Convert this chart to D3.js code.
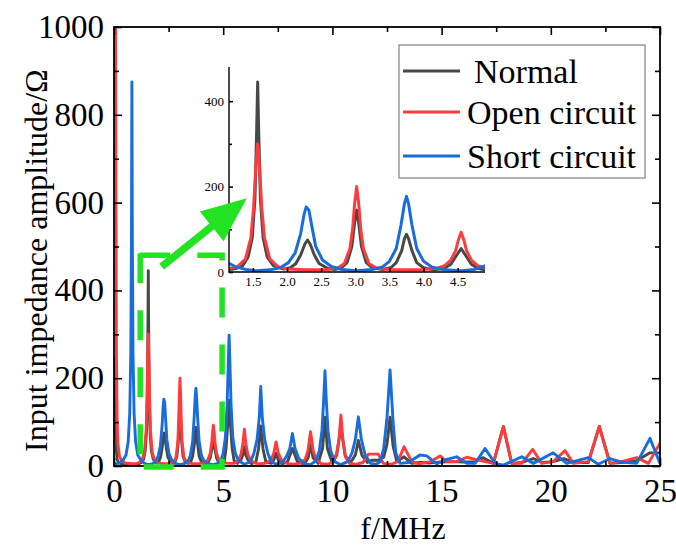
<!DOCTYPE html>
<html><head><meta charset="utf-8">
<script src="https://cdn.jsdelivr.net/npm/d3@7"></script>
<style>body{margin:0;background:#fff} svg{display:block}</style>
</head><body><svg id="c" width="676" height="546"></svg>
<script>
// ---------- data (frequency MHz, impedance Ω) ----------
const seriesNames = ["Normal", "Open circuit", "Short circuit"];
const seriesColors = ["#484848", "#ff3b3b", "#176ddc"];

const normalData = [[0,250],[0.06,120],[0.1,40],[0.14,15],[0.22,7],[0.4,4],[0.82,3],[1.1,4],[1.25,8],[1.35,15],[1.43,35],[1.49,80],[1.53,170],[1.555,330],[1.57,445],[1.585,330],[1.61,170],[1.65,80],[1.71,35],[1.8,15],[1.95,7],[2.05,10],[2.13,20],[2.2,40],[2.26,65],[2.3,75],[2.34,65],[2.4,40],[2.47,20],[2.6,8],[2.7,6],[2.8,10],[2.88,22],[2.95,60],[2.99,115],[3.02,145],[3.05,115],[3.09,60],[3.16,22],[3.25,10],[3.4,6],[3.52,10],[3.6,22],[3.68,50],[3.72,78],[3.75,88],[3.78,78],[3.83,50],[3.9,22],[4.0,10],[4.15,5],[4.3,8],[4.4,18],[4.48,38],[4.55,55],[4.62,38],[4.7,18],[4.8,8],[4.95,4],[5.05,12],[5.13,40],[5.2,90],[5.27,150],[5.34,90],[5.41,40],[5.5,12],[5.65,6],[5.82,15],[5.9,25],[5.97,44],[6.04,25],[6.12,15],[6.3,5],[6.5,10],[6.62,40],[6.72,91],[6.82,40],[6.95,10],[7.2,6],[7.32,14],[7.42,29],[7.52,14],[7.7,5],[7.95,10],[8.17,40],[8.4,10],[8.7,4],[8.88,18],[9.0,48],[9.12,18],[9.35,6],[9.55,40],[9.66,111],[9.77,40],[10.0,6],[10.2,25],[10.39,90],[10.58,25],[10.8,6],[11.05,25],[11.19,58],[11.35,25],[11.6,8],[11.8,13],[12.1,13],[12.35,20],[12.5,50],[12.64,111],[12.78,45],[12.95,10],[13.28,21],[13.63,6],[14.0,8],[14.5,7],[15.0,9],[15.5,10],[16.0,9],[16.53,10],[16.9,19],[17.37,6],[17.83,90],[18.21,6],[18.67,8],[19.2,17],[19.6,8],[20.1,10],[20.6,17],[21.03,8],[21.72,8],[22.22,90],[22.71,6],[23.24,8],[23.93,12],[24.54,30],[25,30]];

const openData = [[0,1000],[0.07,1000],[0.09,600],[0.11,260],[0.14,110],[0.18,50],[0.25,22],[0.35,12],[0.5,7],[0.8,5],[1.0,5],[1.15,8],[1.27,12],[1.39,30],[1.47,80],[1.51,150],[1.54,240],[1.57,300],[1.6,240],[1.63,150],[1.67,80],[1.75,30],[1.87,12],[2.0,7],[2.3,5],[2.6,6],[2.75,10],[2.84,20],[2.92,54],[2.96,100],[2.99,160],[3.02,200],[3.05,160],[3.08,100],[3.12,54],[3.2,20],[3.3,10],[3.5,6],[3.75,5],[4.0,6],[4.2,9],[4.3,14],[4.4,28],[4.47,50],[4.51,75],[4.55,93],[4.59,75],[4.63,50],[4.7,28],[4.8,14],[4.95,9],[5.2,6],[5.5,6],[5.7,12],[5.82,28],[5.9,50],[5.97,84],[6.04,50],[6.12,28],[6.25,12],[6.5,6],[6.75,5],[7.0,7],[7.2,15],[7.32,30],[7.42,55],[7.52,30],[7.65,15],[7.9,6],[8.2,4],[8.5,6],[8.75,15],[8.88,35],[9.0,78],[9.12,35],[9.25,15],[9.5,5],[9.8,4],[10.05,10],[10.2,30],[10.3,60],[10.39,116],[10.48,60],[10.6,20],[10.8,6],[11.1,4],[11.4,8],[11.65,27],[12.1,27],[12.33,6],[12.7,4],[13.0,10],[13.28,44],[13.63,10],[13.96,5],[14.5,10],[14.93,23],[15.23,10],[15.69,10],[16.15,20],[16.53,15],[16.99,10],[17.37,6],[17.83,90],[18.21,6],[18.67,6],[19.17,38],[19.58,6],[20.11,10],[20.65,35],[21.03,6],[21.72,10],[22.22,90],[22.71,6],[23.24,10],[23.93,19],[24.47,6],[25,52]];

const shortData = [[0,5],[0.2,6],[0.4,12],[0.55,25],[0.65,55],[0.72,120],[0.77,260],[0.8,520],[0.82,875],[0.84,520],[0.87,260],[0.92,120],[0.99,55],[1.09,25],[1.25,12],[1.4,6],[1.55,3],[1.75,5],[1.9,10],[2.02,22],[2.12,45],[2.2,90],[2.25,135],[2.28,152],[2.32,145],[2.36,110],[2.42,60],[2.52,28],[2.65,13],[2.8,6],[3.02,3],[3.25,6],[3.4,12],[3.5,25],[3.6,55],[3.67,110],[3.72,160],[3.75,177],[3.78,160],[3.83,110],[3.9,55],[4.0,25],[4.12,12],[4.3,5],[4.55,3],[4.75,6],[4.9,14],[5.0,30],[5.1,65],[5.18,140],[5.23,230],[5.27,298],[5.31,230],[5.36,140],[5.44,65],[5.55,30],[5.7,12],[5.97,4],[6.25,10],[6.4,28],[6.55,60],[6.65,110],[6.72,181],[6.79,110],[6.9,60],[7.05,28],[7.2,10],[7.42,4],[7.7,8],[7.9,22],[8.05,40],[8.17,74],[8.29,40],[8.45,18],[8.7,5],[9.0,3],[9.25,12],[9.4,35],[9.52,80],[9.6,150],[9.66,217],[9.72,150],[9.8,80],[9.92,35],[10.1,10],[10.39,3],[10.7,10],[10.9,30],[11.05,60],[11.19,112],[11.33,60],[11.5,25],[11.75,6],[12.0,4],[12.2,10],[12.35,40],[12.5,110],[12.64,219],[12.78,100],[12.9,30],[13.1,6],[13.48,8],[14.01,25],[14.32,23],[14.77,5],[15.23,15],[15.69,21],[16.15,6],[16.53,6],[16.99,40],[17.45,6],[17.83,2],[18.67,21],[19.2,6],[20.11,30],[20.73,6],[21.72,19],[22.17,4],[22.71,17],[23.24,9],[23.93,6],[24.54,63],[25,6]];

const xTicks = [0, 5, 10, 15, 20, 25];
const xMinor = [2.5, 7.5, 12.5, 17.5, 22.5];
const yTicks = [0, 200, 400, 600, 800, 1000];
const yMinor = [100, 300, 500, 700, 900];
const insetXTicks = [1.5, 2.0, 2.5, 3.0, 3.5, 4.0, 4.5];
const insetYTicks = [0, 200, 400];
const insetYMinor = [100, 300];
const insetXDomain = [1.15, 4.9];
const insetYDomain = [0, 480];
const zoomBox = {f0: 1.2, f1: 4.95, z0: 0, z1: 480};
const arrowFrom = [2.18, 454], arrowTo = [6.08, 610];

// ---------- drawing ----------
const W = 676, H = 546;
const m = {l: 114, r: 16, t: 27, b: 80};
const FONT = "'Liberation Serif','Times New Roman',serif";
const svg = d3.select("#c");
const x = d3.scaleLinear().domain([0, 25]).range([m.l, W - m.r]);
const y = d3.scaleLinear().domain([0, 1000]).range([H - m.b, m.t]);
const allData = [normalData, openData, shortData];

const defs = svg.append("defs");
defs.append("clipPath").attr("id", "clipMain").append("rect")
  .attr("x", m.l).attr("y", m.t).attr("width", W - m.l - m.r).attr("height", H - m.t - m.b);

// main curves
const gData = svg.append("g").attr("clip-path", "url(#clipMain)");
allData.forEach((d, i) => {
  gData.append("path").datum(d)
    .attr("fill", "none").attr("stroke", seriesColors[i]).attr("stroke-width", 2.9)
    .attr("stroke-linejoin", "round")
    .attr("d", d3.line().x(p => x(p[0])).y(p => y(p[1])));
});

function styleAxis(g, size) {
  g.select(".domain").remove();
  g.selectAll("line").attr("stroke", "#000").attr("stroke-width", 1.6);
  g.selectAll("text").attr("font-family", FONT).attr("font-size", size).attr("fill", "#000");
}
const TICKFONT = 33;
const yB = y(0), yT = y(1000), xL = x(0), xR = x(25);
svg.append("g").attr("transform", `translate(0,${yB})`)
  .call(d3.axisBottom(x).tickValues(xTicks).tickFormat(d3.format("d")).tickSizeInner(-8).tickSizeOuter(0).tickPadding(13))
  .call(g => styleAxis(g, TICKFONT));
svg.append("g").attr("transform", `translate(0,${yB})`)
  .call(d3.axisBottom(x).tickValues(xMinor).tickFormat("").tickSizeInner(-5).tickSizeOuter(0)).call(g => styleAxis(g, TICKFONT));
svg.append("g").attr("transform", `translate(0,${yT})`)
  .call(d3.axisTop(x).tickValues(xTicks).tickFormat("").tickSizeInner(-8).tickSizeOuter(0)).call(g => styleAxis(g, TICKFONT));
svg.append("g").attr("transform", `translate(0,${yT})`)
  .call(d3.axisTop(x).tickValues(xMinor).tickFormat("").tickSizeInner(-5).tickSizeOuter(0)).call(g => styleAxis(g, TICKFONT));
svg.append("g").attr("transform", `translate(${xL},0)`)
  .call(d3.axisLeft(y).tickValues(yTicks).tickFormat(d3.format("d")).tickSizeInner(-8).tickSizeOuter(0).tickPadding(10))
  .call(g => styleAxis(g, TICKFONT));
svg.append("g").attr("transform", `translate(${xL},0)`)
  .call(d3.axisLeft(y).tickValues(yMinor).tickFormat("").tickSizeInner(-5).tickSizeOuter(0)).call(g => styleAxis(g, TICKFONT));
svg.append("g").attr("transform", `translate(${xR},0)`)
  .call(d3.axisRight(y).tickValues(yTicks).tickFormat("").tickSizeInner(-8).tickSizeOuter(0)).call(g => styleAxis(g, TICKFONT));
svg.append("g").attr("transform", `translate(${xR},0)`)
  .call(d3.axisRight(y).tickValues(yMinor).tickFormat("").tickSizeInner(-5).tickSizeOuter(0)).call(g => styleAxis(g, TICKFONT));
svg.append("rect").attr("x", xL).attr("y", yT).attr("width", xR - xL).attr("height", yB - yT)
  .attr("fill", "none").attr("stroke", "#000").attr("stroke-width", 1.8);

// axis titles
svg.append("text").attr("x", 403).attr("y", 539).attr("text-anchor", "middle")
  .attr("font-family", FONT).attr("font-size", 32).text("f/MHz");
svg.append("text").attr("transform", `translate(36,${(yT + yB) / 2 + 14}) rotate(-90)`)
  .attr("text-anchor", "middle").attr("dominant-baseline", "central")
  .attr("font-family", FONT).attr("font-size", 32).text("Input impedance amplitude/Ω");

// zoom box (green dashed)
const GREEN = "#22e322";
const bx0 = x(zoomBox.f0), bx1 = x(zoomBox.f1), by0 = y(zoomBox.z1), by1 = y(zoomBox.z0) + 1;
svg.append("path").attr("d", `M${bx0},${by0}H${bx1}V${by1}H${bx0}`)
  .attr("fill", "none").attr("stroke", GREEN).attr("stroke-width", 5.5).attr("stroke-dasharray", "30,27");
svg.append("path").attr("d", `M${bx0},${by0 - 2}V${by1}`)
  .attr("fill", "none").attr("stroke", GREEN).attr("stroke-width", 5.5).attr("stroke-dasharray", "30,27");

// inset
const xi = d3.scaleLinear().domain(insetXDomain).range([229, 485]);
const yi = d3.scaleLinear().domain(insetYDomain).range([272, 67]);
defs.append("clipPath").attr("id", "clipInset").append("rect")
  .attr("x", xi.range()[0]).attr("y", yi.range()[1]).attr("width", xi.range()[1] - xi.range()[0]).attr("height", yi.range()[0] - yi.range()[1]);
const gIn = svg.append("g").attr("clip-path", "url(#clipInset)");
allData.forEach((d, i) => {
  gIn.append("path").datum(d)
    .attr("fill", "none").attr("stroke", seriesColors[i]).attr("stroke-width", 3)
    .attr("stroke-linejoin", "round")
    .attr("d", d3.line().x(p => xi(p[0])).y(p => yi(p[1])));
});
svg.append("g").attr("transform", `translate(0,${yi(0)})`)
  .call(d3.axisBottom(xi).tickValues(insetXTicks).tickFormat(d3.format(".1f")).tickSizeInner(-4).tickSizeOuter(0).tickPadding(5))
  .call(g => styleAxis(g, 13));
svg.append("g").attr("transform", `translate(${xi.range()[0]},0)`)
  .call(d3.axisLeft(yi).tickValues(insetYTicks).tickFormat(d3.format("d")).tickSizeInner(-4).tickSizeOuter(0).tickPadding(5))
  .call(g => styleAxis(g, 13));
svg.append("g").attr("transform", `translate(${xi.range()[0]},0)`)
  .call(d3.axisLeft(yi).tickValues(insetYMinor).tickFormat("").tickSizeInner(-3).tickSizeOuter(0)).call(g => styleAxis(g, 13));
svg.append("path").attr("d", `M${xi.range()[0]},${yi.range()[1]}V${yi(0)}H${xi.range()[1]}`)
  .attr("fill", "none").attr("stroke", "#000").attr("stroke-width", 1.4);

// arrow
const p0 = [x(arrowFrom[0]), y(arrowFrom[1])], p1 = [x(arrowTo[0]), y(arrowTo[1])];
const dx = p1[0] - p0[0], dy = p1[1] - p0[1], len = Math.hypot(dx, dy);
const ux = dx / len, uy = dy / len, hl = 45, hw = 19;
const base = [p1[0] - ux * hl, p1[1] - uy * hl];
svg.append("line").attr("x1", p0[0]).attr("y1", p0[1]).attr("x2", base[0] + ux * 2).attr("y2", base[1] + uy * 2)
  .attr("stroke", GREEN).attr("stroke-width", 7.5);
svg.append("path").attr("fill", GREEN)
  .attr("d", `M${p1[0]},${p1[1]}L${base[0] - uy * hw},${base[1] + ux * hw}L${base[0] + uy * hw},${base[1] - ux * hw}Z`);

// legend
const lg = svg.append("g");
lg.append("rect").attr("x", 399).attr("y", 45).attr("width", 246).attr("height", 133)
  .attr("fill", "#fff").attr("stroke", "#8a8a8a").attr("stroke-width", 1.3);
const legendRowY = [71, 112, 156];
const legendTextX = [474, 467, 467];
seriesNames.forEach((n, i) => {
  lg.append("line").attr("x1", 403).attr("x2", 460).attr("y1", legendRowY[i]).attr("y2", legendRowY[i])
    .attr("stroke", seriesColors[i]).attr("stroke-width", 2.8);
  lg.append("text").attr("x", legendTextX[i]).attr("y", legendRowY[i]).attr("dominant-baseline", "central")
    .attr("font-family", FONT).attr("font-size", 34).attr("fill", "#000").text(n);
});
</script></body></html>
